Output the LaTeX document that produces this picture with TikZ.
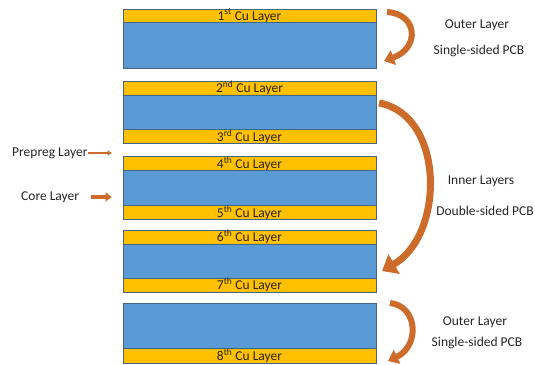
\documentclass[tikz,border=0pt]{standalone}
\usepackage{fontspec}
\setmainfont{Carlito}
\usetikzlibrary{arrows.meta}
\definecolor{cucol}{RGB}{255,192,0}
\definecolor{corecol}{RGB}{91,155,213}
\definecolor{edgecol}{RGB}{70,100,135}
\definecolor{arrcol}{RGB}{205,108,42}
\definecolor{txtcol}{RGB}{38,38,38}

\begin{document}
\begin{tikzpicture}[x=1pt,y=-1pt,
every node/.style={inner sep=0pt,text=txtcol},
cu/.style={draw=edgecol,line width=0.6pt,fill=cucol,minimum width=253pt,font=\fontsize{13.5}{14}\selectfont},
core/.style={draw=edgecol,line width=0.6pt,fill=corecol,minimum width=253pt},
lbl/.style={font=\fontsize{13.5}{15}\selectfont},
curvarrow/.style={draw=arrcol,line width=6pt},
push/.style={draw=arrcol}]
\useasboundingbox (0,0) rectangle (535,364);

%cores (drawn first, copper on top)
\foreach \n/\y/\h in {1/45/46,2/112/36,3/188/38,4/261/36,5/325.5/45}
	\node[core,minimum height=\h pt] (core\n) at (249.5,\y) {};

%copper layers
\foreach \n/\y/\h/\sfx in {1/15.5/13/st,2/88/12/nd,3/136.5/13/rd,4/163.5/11/th,5/212.5/11/th,6/237/12/th,7/285/12/th,8/355.5/15/th}
	\node[cu,minimum height=\h pt] (cu\n) at (249.5,\y) {\n\textsuperscript{\sfx} Cu Layer};

%left labels
\node[lbl,anchor=west] (prepreg) at (12,153) {Prepreg Layer};
\node[lbl,anchor=west] (corelbl) at (21,197) {Core Layer};
\draw[push,line width=2.5pt,-{Triangle[width=5pt,length=4pt]}] (prepreg.east) -- ([xshift=-11pt]cu4.west |- prepreg.east);
\draw[push,line width=4pt,-{Triangle[width=9pt,length=6pt]}] ([xshift=12pt]corelbl.east) -- ([xshift=-11pt]core3.west |- corelbl.east);

%right labels
\node[lbl] (outer1) at (477,25) {Outer Layer};
\node[lbl] (single1) at (479,51) {Single-sided PCB};
\node[lbl] (inner) at (481,181) {Inner Layers};
\node[lbl] (double) at (485,211) {Double-sided PCB};
\node[lbl] (outer2) at (475,322) {Outer Layer};
\node[lbl] (single2) at (477,343) {Single-sided PCB};

%curved arrows
\coordinate (a1) at (387,12);
\coordinate (b1) at (384,61);
\coordinate (a2) at (379,103);
\coordinate (b2) at (382,271);
\coordinate (a3) at (390,303);
\coordinate (b3) at (388,361);
\draw[curvarrow,-{Triangle[width=15pt,length=10pt]}] (a1) .. controls (418,14) and (420,48) .. (b1);
\draw[curvarrow,line width=7pt,-{Triangle[width=22pt,length=14pt]}] (a2) .. controls (445,115) and (445,235) .. (b2);
\draw[curvarrow,-{Triangle[width=15pt,length=10pt]}] (a3) .. controls (418,306) and (420,346) .. (b3);
\end{tikzpicture}
\end{document}
